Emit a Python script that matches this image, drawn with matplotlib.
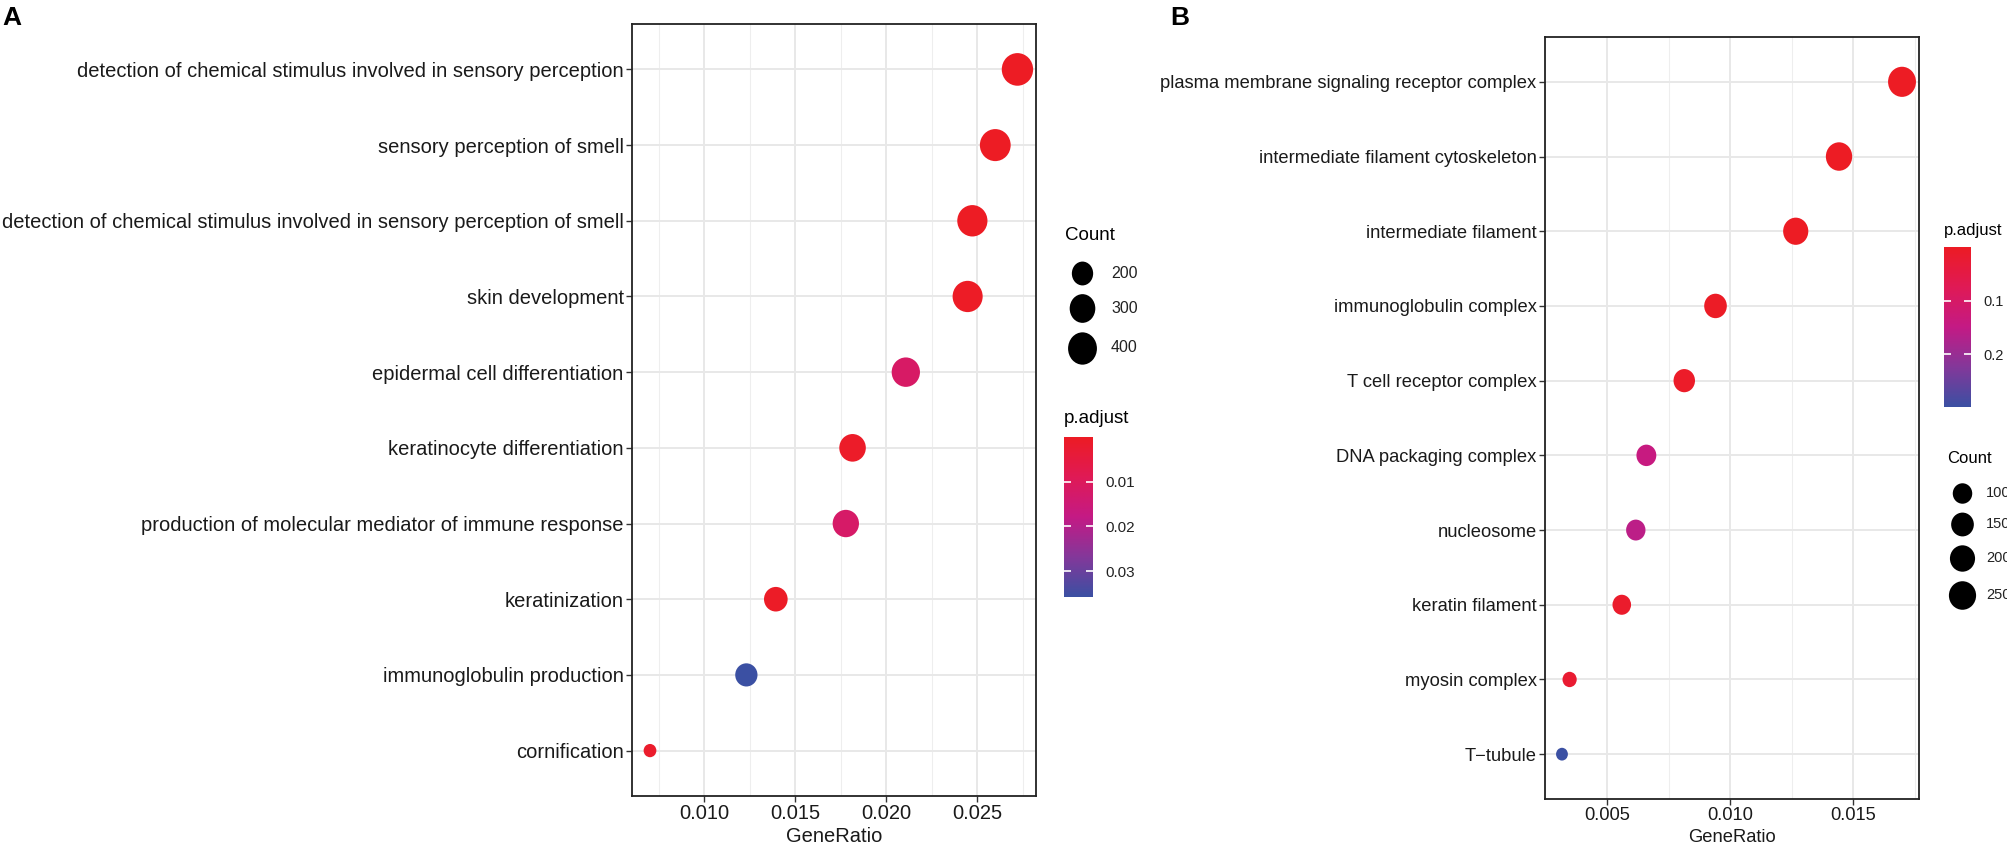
"""GO enrichment dot plots (BP and CC), two panels."""

import numpy as np
import matplotlib.pyplot as plt
from matplotlib.colors import LinearSegmentedColormap, Normalize
from matplotlib.path import Path

plt.rcParams["font.family"] = ["Liberation Sans", "DejaVu Sans"]

# panel A - biological process
bp_terms = [
    "detection of chemical stimulus involved in sensory perception",
    "sensory perception of smell",
    "detection of chemical stimulus involved in sensory perception of smell",
    "skin development",
    "epidermal cell differentiation",
    "keratinocyte differentiation",
    "production of molecular mediator of immune response",
    "keratinization",
    "immunoglobulin production",
    "cornification",
]
bp_ratio = [0.02722, 0.02600, 0.02474, 0.02448, 0.02108, 0.01815, 0.01778, 0.01393, 0.01231, 0.00701]
bp_count = [449, 429, 408, 404, 348, 299, 293, 230, 203, 116]
bp_padj = [1.2e-6, 3.5e-5, 8.0e-6, 4.1e-4, 0.0118, 9.6e-4, 0.0123, 6.2e-4, 0.0358, 1.5e-3]
bp_xticks = [0.010, 0.015, 0.020, 0.025]
bp_size_breaks = [200, 300, 400]
bp_padj_ticks = [0.01, 0.02, 0.03]

# panel B - cellular component
cc_terms = [
    "plasma membrane signaling receptor complex",
    "intermediate filament cytoskeleton",
    "intermediate filament",
    "immunoglobulin complex",
    "T cell receptor complex",
    "DNA packaging complex",
    "nucleosome",
    "keratin filament",
    "myosin complex",
    "T\u2212tubule",
]
cc_ratio = [0.01699, 0.01443, 0.01267, 0.00941, 0.00814, 0.00660, 0.00617, 0.00560, 0.00348, 0.00317]
cc_count = [280, 238, 209, 155, 134, 109, 102, 92, 57, 52]
cc_padj = [1.0e-8, 3.2e-5, 6.5e-6, 0.0042, 0.0091, 0.142, 0.158, 0.0125, 0.0215, 0.298]
cc_xticks = [0.005, 0.010, 0.015]
cc_size_breaks = [100, 150, 200, 250]
cc_padj_ticks = [0.1, 0.2]

W, H = 2008, 849
DPI = 100
CMAP = LinearSegmentedColormap.from_list(
    "padj", [(0.0, "#ED1C24"), (0.25, "#E01A56"), (0.5, "#C41A85"),
             (0.75, "#84389A"), (1.0, "#3B50A3")])

fig = plt.figure(figsize=(W / DPI, H / DPI), dpi=DPI)


def px_axes(x0, y0, x1, y1):
    return fig.add_axes([x0 / W, 1 - y1 / H, (x1 - x0) / W, (y1 - y0) / H])


def oval(aspect):
    circ = Path.unit_circle()
    v = circ.vertices.copy()
    v[:, 0] /= aspect
    return Path(v, circ.codes)


def diam(c, cmin, cmax, lo, hi):
    # ggplot area scale: diameter grows with sqrt of the rescaled value
    t = (np.asarray(c, float) - cmin) / (cmax - cmin)
    return lo + (hi - lo) * np.sqrt(np.clip(t, 0, 1))


def marker_s(d, aspect):
    # custom markers are sized by their height
    return (d * np.sqrt(aspect) * 72 / DPI) ** 2


def draw_dots(ax, terms, ratio, count, padj, xlim, xticks, lo, hi, aspect, size):
    n = len(terms)
    y = np.arange(n)
    d = diam(count, min(count), max(count), lo, hi)
    ax.scatter(ratio, y, s=marker_s(d, aspect), marker=oval(aspect), c=padj, cmap=CMAP,
               norm=Normalize(min(padj), max(padj)), linewidths=0, zorder=3)
    ax.set_yticks(y)
    ax.set_yticklabels(terms)
    ax.set_ylim(n - 0.4, -0.6)
    ax.set_xlim(xlim)
    step = xticks[1] - xticks[0]
    ax.set_xticks(xticks)
    ax.set_xticklabels([f"{t:.3f}" for t in xticks])
    ax.set_xticks(np.r_[xticks[0] - step / 2, np.array(xticks) + step / 2], minor=True)
    ax.grid(which="major", color="#E8E8E8", lw=1.4)
    ax.grid(which="minor", axis="x", color="#EEEEEE", lw=0.8)
    ax.set_axisbelow(True)
    ax.tick_params(which="minor", length=0)
    ax.tick_params(which="major", length=4, width=1.0, color="#333333",
                   labelsize=size, pad=2, labelcolor="#1A1A1A")
    for s in ax.spines.values():
        s.set_linewidth(1.3)
        s.set_color("#222222")
    ax.set_xlabel("GeneRatio", fontsize=size, labelpad=3, color="#1A1A1A")


def draw_cbar(cax, padj, ticks, size):
    vmin, vmax = min(padj), max(padj)
    grad = np.linspace(vmin, vmax, 256)[:, None]
    cax.imshow(grad, cmap=CMAP, norm=Normalize(vmin, vmax), aspect="auto",
               origin="lower", extent=(0, 1, vmin, vmax))
    cax.set_ylim(vmax, vmin)
    cax.set_xlim(0, 1)
    cax.set_xticks([])
    cax.yaxis.tick_right()
    cax.set_yticks(ticks)
    cax.set_yticklabels([f"{t:g}" for t in ticks])
    cax.tick_params(axis="y", left=True, right=True, direction="in", color="white",
                    length=5, width=1.2, labelsize=size, pad=9, labelcolor="#222222")
    for s in cax.spines.values():
        s.set_visible(False)


def draw_count_legend(ov, x_title, y_title, x_key, y_first, breaks, count, lo, hi,
                      aspect, title_size, label_size, label_dx):
    ov.text(x_title, y_title, "Count", fontsize=title_size, va="center", ha="left")
    d = diam(breaks, min(count), max(count), lo, hi)
    yc = y_first
    for i, (b, di) in enumerate(zip(breaks, d)):
        if i > 0:
            yc += (d[i - 1] + di) / 2 * np.sqrt(aspect) + 9
        ov.scatter([x_key], [yc], s=marker_s(di, aspect), marker=oval(aspect),
                   color="black", linewidths=0)
        ov.text(x_key + label_dx, yc, str(b), fontsize=label_size, va="center",
                ha="left", color="#222222")


# panel A
axA = px_axes(632, 24, 1036, 796)
draw_dots(axA, bp_terms, bp_ratio, bp_count, bp_padj, (0.00602, 0.02824), bp_xticks,
          13, 32, 1.04, 14.5)
caxA = px_axes(1064, 437, 1093, 597)
draw_cbar(caxA, bp_padj, bp_padj_ticks, 11)

# panel B
axB = px_axes(1545, 37, 1919, 799)
draw_dots(axB, cc_terms, cc_ratio, cc_count, cc_padj, (0.00248, 0.01768), cc_xticks,
          12.3, 29, 1.08, 13.2)
caxB = px_axes(1944, 247, 1971, 407)
draw_cbar(caxB, cc_padj, cc_padj_ticks, 10.5)

# overlay in pixel coordinates for legends and panel letters
ov = fig.add_axes([0, 0, 1, 1])
ov.set_xlim(0, W)
ov.set_ylim(H, 0)
ov.axis("off")
ov.patch.set_alpha(0)

draw_count_legend(ov, 1065, 235, 1082, 273, bp_size_breaks, bp_count, 13, 32,
                  1.12, 13.5, 11.5, 29)
ov.text(1064, 418, "p.adjust", fontsize=13.5, va="center", ha="left")
draw_count_legend(ov, 1947, 458, 1962, 493, cc_size_breaks, cc_count, 12.3, 29,
                  1.05, 12, 10.5, 24)
ov.text(1944, 230, "p.adjust", fontsize=12, va="center", ha="left")

ov.text(2, 6, "A", fontsize=19, fontweight="bold", va="top", ha="left")
ov.text(1170, 6, "B", fontsize=19, fontweight="bold", va="top", ha="left")

fig.savefig("out.png", dpi=DPI)
